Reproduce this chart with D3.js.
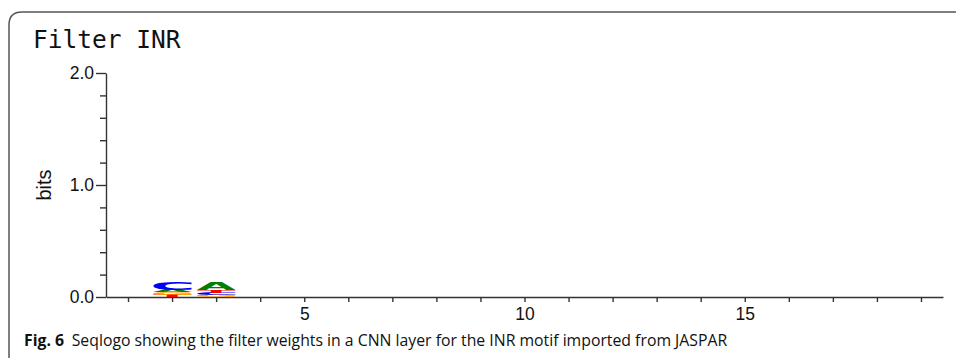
<!DOCTYPE html>
<html>
<head>
<meta charset="utf-8">
<script src="https://cdn.jsdelivr.net/npm/d3@7"></script>
<style>
  body { margin: 0; background: #fff; }
  svg { display: block; }
</style>
</head>
<body>
<svg width="956" height="358"></svg>
<script>
// position 1..19, bits per base
const positions = [1, 2, 3, 4, 5, 6, 7, 8, 9, 10, 11, 12, 13, 14, 15, 16, 17, 18, 19];
const bitsA = [0, 0.026, 0.066, 0, 0, 0, 0, 0, 0, 0, 0, 0, 0, 0, 0, 0, 0, 0, 0];
const bitsC = [0, 0.068, 0.020, 0, 0, 0, 0, 0, 0, 0, 0, 0, 0, 0, 0, 0, 0, 0, 0];
const bitsG = [0, 0.022, 0.018, 0, 0, 0, 0, 0, 0, 0, 0, 0, 0, 0, 0, 0, 0, 0, 0];
const bitsT = [0, 0.018, 0.028, 0, 0, 0, 0, 0, 0, 0, 0, 0, 0, 0, 0, 0, 0, 0, 0];
const bases = ['A', 'C', 'G', 'T'];
const baseColors = ['#008000', '#0000ff', '#ffa500', '#ff0000'];
const yMajor = [0, 1, 2];
const yMinor = [0.2, 0.4, 0.6, 0.8, 1.2, 1.4, 1.6, 1.8];
const xLabeled = [5, 10, 15];

const svg = d3.select('svg');

// rounded frame, runs off the right and bottom
const r = 13;
svg.append('path')
    .attr('d', `M9,358 L9,${12 + r} Q9,12 ${9 + r},12 L960,12`)
    .attr('fill', 'none')
    .attr('stroke', '#555')
    .attr('stroke-width', 1.5);

svg.append('text')
    .attr('x', 33)
    .attr('y', 48)
    .attr('font-family', '"DejaVu Sans Mono", monospace')
    .attr('font-size', 24.5)
    .attr('fill', '#111')
    .text('Filter INR');

const x = d3.scaleLinear().domain([0.5, 19.5]).range([106, 943]);
const y = d3.scaleLinear().domain([0, 2]).range([297, 73]);

const axisFont = '"Liberation Sans", Arial, sans-serif';

const yAxisG = svg.append('g')
    .attr('transform', 'translate(106,0)')
    .call(d3.axisLeft(y).tickValues(yMajor).tickSize(10).tickSizeOuter(0).tickFormat(d3.format('.1f')));
svg.append('g')
    .attr('transform', 'translate(106,0)')
    .call(d3.axisLeft(y).tickValues(yMinor).tickSize(6).tickSizeOuter(0).tickFormat(''))
    .select('.domain').remove();

const xAxisG = svg.append('g')
    .attr('transform', 'translate(0,297)')
    .call(d3.axisBottom(x).tickValues(positions).tickSize(5).tickSizeOuter(0)
      .tickFormat(d => xLabeled.includes(d) ? d : ''));

svg.selectAll('.tick line, .domain')
    .attr('stroke', '#333')
    .attr('stroke-width', 1.4);
svg.selectAll('.tick text')
    .attr('font-family', axisFont)
    .attr('font-size', 17.5)
    .attr('fill', '#111');
yAxisG.selectAll('.tick text').attr('x', -12);
xAxisG.selectAll('.tick text').attr('y', 11);

svg.append('text')
    .attr('transform', `translate(51,${y(1)}) rotate(-90)`)
    .attr('text-anchor', 'middle')
    .attr('font-family', axisFont)
    .attr('font-size', 20)
    .attr('fill', '#111')
    .text('bits');

// letters: scale glyph ink box into each stack cell
const glyphFont = 'bold 100px "DejaVu Sans"';
const ctx = document.createElement('canvas').getContext('2d');
ctx.font = glyphFont;
const ink = {};
bases.forEach(b => {
  const m = ctx.measureText(b);
  ink[b] = {
    left: m.actualBoundingBoxLeft,
    w: m.actualBoundingBoxLeft + m.actualBoundingBoxRight,
    asc: m.actualBoundingBoxAscent,
    h: m.actualBoundingBoxAscent + m.actualBoundingBoxDescent
  };
});

const bitsByBase = [bitsA, bitsC, bitsG, bitsT];
const letterW = (x(2) - x(1)) * 0.88;
const logoG = svg.append('g');

positions.forEach((p, i) => {
  const stack = bases
    .map((b, k) => ({ base: b, color: baseColors[k], v: bitsByBase[k][i] }))
    .filter(d => d.v > 0)
    .sort((a, b) => a.v - b.v);
  let cum = 0;
  stack.forEach(d => {
    const yTop = y(cum + d.v);
    const hPx = y(cum) - yTop;
    const g = ink[d.base];
    const sx = letterW / g.w;
    const sy = hPx / g.h;
    logoG.append('text')
        .attr('transform', `translate(${x(p) - letterW / 2},${yTop}) scale(${sx},${sy}) translate(${g.left},${g.asc})`)
        .attr('font-family', '"DejaVu Sans"')
        .attr('font-weight', 'bold')
        .attr('font-size', 100)
        .attr('fill', d.color)
        .text(d.base);
    cum += d.v;
  });
});

// caption
const cap = svg.append('text')
    .attr('x', 24)
    .attr('y', 346)
    .attr('font-family', '"Open Sans", sans-serif')
    .attr('font-size', 16.5)
    .attr('fill', '#111');
cap.append('tspan').attr('font-weight', 'bold').text('Fig. 6');
cap.append('tspan').attr('dx', 8).text('Seqlogo showing the filter weights in a CNN layer for the INR motif imported from JASPAR');
const capW = cap.node().getComputedTextLength();
const capTarget = 704;
cap.attr('transform', `translate(24,0) scale(${capTarget / (capW + 8)},1) translate(-24,0)`);
</script>
</body>
</html>
